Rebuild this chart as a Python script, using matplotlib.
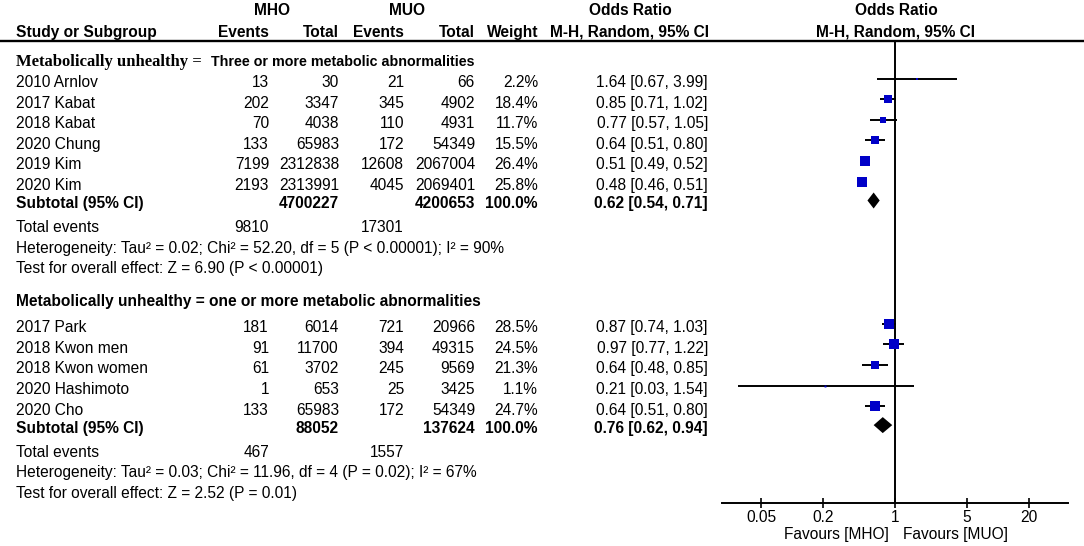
import numpy as np
import matplotlib
matplotlib.use('Agg')
import matplotlib.pyplot as plt

plt.rcParams['font.family'] = ['Liberation Sans', 'DejaVu Sans']

# --------------------------------------------------------------------
# -- DATA
# --------------------------------------------------------------------
studies_1 = ['2010 Arnlov', '2017 Kabat', '2018 Kabat', '2020 Chung',
             '2019 Kim', '2020 Kim']
ev_mho_1 = [13, 202, 70, 133, 7199, 2193]
tot_mho_1 = [30, 3347, 4038, 65983, 2312838, 2313991]
ev_muo_1 = [21, 345, 110, 172, 12608, 4045]
tot_muo_1 = [66, 4902, 4931, 54349, 2067004, 2069401]
weight_1 = [2.2, 18.4, 11.7, 15.5, 26.4, 25.8]
or_1 = [1.64, 0.85, 0.77, 0.64, 0.51, 0.48]
lo_1 = [0.67, 0.71, 0.57, 0.51, 0.49, 0.46]
hi_1 = [3.99, 1.02, 1.05, 0.80, 0.52, 0.51]
sub_1 = dict(tot_mho=4700227, tot_muo=4200653, ev_mho=9810, ev_muo=17301,
             est=0.62, lo=0.54, hi=0.71)
het_1 = 'Heterogeneity: Tau² = 0.02; Chi² = 52.20, df = 5 (P < 0.00001); I² = 90%'
test_1 = 'Test for overall effect: Z = 6.90 (P < 0.00001)'

studies_2 = ['2017 Park', '2018 Kwon men', '2018 Kwon women',
             '2020 Hashimoto', '2020 Cho']
ev_mho_2 = [181, 91, 61, 1, 133]
tot_mho_2 = [6014, 11700, 3702, 653, 65983]
ev_muo_2 = [721, 394, 245, 25, 172]
tot_muo_2 = [20966, 49315, 9569, 3425, 54349]
weight_2 = [28.5, 24.5, 21.3, 1.1, 24.7]
or_2 = [0.87, 0.97, 0.64, 0.21, 0.64]
lo_2 = [0.74, 0.77, 0.48, 0.03, 0.51]
hi_2 = [1.03, 1.22, 0.85, 1.54, 0.80]
sub_2 = dict(tot_mho=88052, tot_muo=137624, ev_mho=467, ev_muo=1557,
             est=0.76, lo=0.62, hi=0.94)
het_2 = 'Heterogeneity: Tau² = 0.03; Chi² = 11.96, df = 4 (P = 0.02); I² = 67%'
test_2 = 'Test for overall effect: Z = 2.52 (P = 0.01)'

x_ticks = [0.05, 0.2, 1, 5, 20]
x_tick_labels = ['0.05', '0.2', '1', '5', '20']

# --------------------------------------------------------------------
# -- LAYOUT (pixels)
# --------------------------------------------------------------------
W, H = 1084, 546
FS = 11.2
HALF_CAP = 0.716 * FS * 100 / 72 / 2
X_STUDY, X_EV1, X_TOT1, X_EV2, X_TOT2, X_W, X_OR = 16, 269, 339, 404, 475, 538, 708
X_ORHEAD = 630
LINE_Y = 41
AX_LEFT, AX_RIGHT, AX_BOTTOM = 722, 1068, 503
STEP = 20.6
BLUE = '#0000C8'

fig = plt.figure(figsize=(W / 100, H / 100), dpi=100)
ax = fig.add_axes([0, 0, 1, 1])
ax.set_xlim(0, W)
ax.set_ylim(H, 0)
ax.axis('off')

fa = fig.add_axes([AX_LEFT / W, (H - AX_BOTTOM) / H,
                   (AX_RIGHT - AX_LEFT) / W, (AX_BOTTOM - LINE_Y) / H])
fa.set_xscale('log')
fa.set_xlim(0.0209, 47.8)
fa.set_ylim(AX_BOTTOM, LINE_Y)
fa.patch.set_alpha(0)
for side in ['top', 'left', 'right']:
    fa.spines[side].set_visible(False)
fa.spines['bottom'].set_linewidth(1.4)
fa.set_yticks([])
fa.set_xticks(x_ticks)
fa.set_xticklabels(x_tick_labels)
fa.minorticks_off()
fa.tick_params(axis='x', direction='inout', length=7.2, width=1.2,
               pad=1.8, labelsize=FS)
fa.axvline(1, color='black', lw=1.4, zorder=1)


def txt(x, y, s, ha='left', bold=False, **kw):
    ax.text(x, y + HALF_CAP, s, ha=ha, va='baseline', fontsize=kw.pop('fontsize', FS),
            fontweight='bold' if bold else 'normal', **kw)


# en-tetes
txt(272, 9, 'MHO', ha='center', bold=True)
txt(407, 9, 'MUO', ha='center', bold=True)
txt(X_ORHEAD, 9, 'Odds Ratio', ha='center', bold=True)
txt(896, 9, 'Odds Ratio', ha='center', bold=True)
txt(X_STUDY, 31, 'Study or Subgroup', bold=True)
txt(X_EV1, 31, 'Events', ha='right', bold=True)
txt(X_TOT1, 31, 'Total', ha='right', bold=True)
txt(X_EV2, 31, 'Events', ha='right', bold=True)
txt(X_TOT2, 31, 'Total', ha='right', bold=True)
txt(X_W, 31, 'Weight', ha='right', bold=True)
txt(X_ORHEAD, 31, 'M-H, Random, 95% CI', ha='center', bold=True)
txt(896, 31, 'M-H, Random, 95% CI', ha='center', bold=True)
ax.plot([0, W], [LINE_Y, LINE_Y], color='black', lw=1.7)


def draw_group(y_first, studies, ev1, t1, ev2, t2, w, est, lo, hi,
               sub, het, test):
    ys = y_first + STEP * np.arange(len(studies))
    for i, name in enumerate(studies):
        y = ys[i]
        txt(X_STUDY, y, name)
        txt(X_EV1, y, str(ev1[i]), ha='right')
        txt(X_TOT1, y, str(t1[i]), ha='right')
        txt(X_EV2, y, str(ev2[i]), ha='right')
        txt(X_TOT2, y, str(t2[i]), ha='right')
        txt(X_W, y, '{:.1f}%'.format(w[i]), ha='right')
        txt(X_OR, y, '{:.2f} [{:.2f}, {:.2f}]'.format(est[i], lo[i], hi[i]), ha='right')
    ym = ys - 3
    fa.hlines(ym, lo, hi, color='black', lw=1.4, zorder=2)
    # carres : aire proportionnelle au poids
    sizes = 1.85 * np.sqrt(w) * 0.72
    for x, y, s in zip(est, ym, sizes):
        fa.plot([x], [y], marker='s', ms=s, color=BLUE, mew=0, ls='none', zorder=3)
    # sous-total
    y_sub = ys[-1] + 18
    txt(X_STUDY, y_sub, 'Subtotal (95% CI)', bold=True)
    txt(X_TOT1, y_sub, str(sub['tot_mho']), ha='right', bold=True)
    txt(X_TOT2, y_sub, str(sub['tot_muo']), ha='right', bold=True)
    txt(X_W, y_sub, '100.0%', ha='right', bold=True)
    txt(X_OR, y_sub, '{:.2f} [{:.2f}, {:.2f}]'.format(sub['est'], sub['lo'], sub['hi']),
        ha='right', bold=True)
    yd = y_sub - 2
    fa.fill([sub['lo'], sub['est'], sub['hi'], sub['est']],
            [yd, yd - 8, yd, yd + 8], color='black', lw=0, zorder=3)
    y_tot = y_sub + 24
    txt(X_STUDY, y_tot, 'Total events')
    txt(X_EV1, y_tot, str(sub['ev_mho']), ha='right')
    txt(X_EV2, y_tot, str(sub['ev_muo']), ha='right')
    txt(X_STUDY, y_tot + 20.5, het)
    txt(X_STUDY, y_tot + 41, test)


# groupe 1 : titre en deux polices
ax.text(X_STUDY, 60 + HALF_CAP, 'Metabolically unhealthy =', family='Liberation Serif',
        fontweight='bold', fontsize=12, va='baseline')
txt(211, 60, 'Three or more metabolic abnormalities', bold=True, fontsize=10.3)
draw_group(81.5, studies_1, ev_mho_1, tot_mho_1, ev_muo_1, tot_muo_1,
           weight_1, or_1, lo_1, hi_1, sub_1, het_1, test_1)

txt(X_STUDY, 300, 'Metabolically unhealthy = one or more metabolic abnormalities', bold=True)
draw_group(326.7, studies_2, ev_mho_2, tot_mho_2, ev_muo_2, tot_muo_2,
           weight_2, or_2, lo_2, hi_2, sub_2, het_2, test_2)

# favours
fa.annotate('Favours [MHO]', xy=(1, 0), xycoords=('data', 'axes fraction'),
            xytext=(-4.3, -23), textcoords='offset points', ha='right', va='center',
            fontsize=FS)
fa.annotate('Favours [MUO]', xy=(1, 0), xycoords=('data', 'axes fraction'),
            xytext=(5.8, -23), textcoords='offset points', ha='left', va='center',
            fontsize=FS)

fig.savefig('out.png', dpi=100)
